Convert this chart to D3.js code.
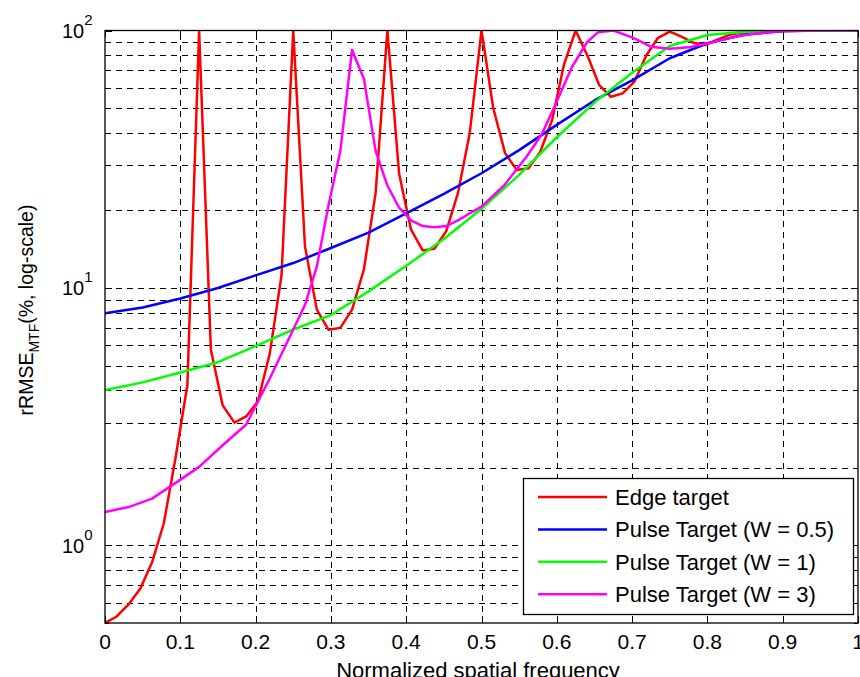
<!DOCTYPE html>
<html>
<head>
<meta charset="utf-8">
<script src="https://cdn.jsdelivr.net/npm/d3@7"></script>
<style>
  body { margin: 0; background: #fff; }
  svg { display: block; font-family: "Liberation Sans", Arial, sans-serif; }
</style>
</head>
<body>
<div id="chart"></div>
<script>
// edge target sampled at k/64
const edgeFreq = [0, 0.0156, 0.0313, 0.0469, 0.0625, 0.0781, 0.0938, 0.1094, 0.125, 0.1406,
    0.1563, 0.1719, 0.1875, 0.2031, 0.2188, 0.2344, 0.25, 0.2656, 0.2813, 0.2969,
    0.3125, 0.3281, 0.3438, 0.3594, 0.375, 0.3906, 0.4063, 0.4219, 0.4375, 0.4531,
    0.4688, 0.4844, 0.5, 0.5156, 0.5313, 0.5469, 0.5625, 0.5781, 0.5938, 0.6094,
    0.625, 0.6406, 0.6563, 0.6719, 0.6875, 0.7031, 0.7188, 0.7344, 0.75, 0.7656,
    0.7813, 0.7969, 0.8125, 0.8281, 0.8438, 0.8594, 0.875, 0.8906, 0.9063, 0.9219,
    0.9375, 0.9531, 0.9688, 0.9844, 1];
const edgeErr = [0.50, 0.53, 0.59, 0.68, 0.86, 1.22, 2.2, 4.2, 100, 5.76,
    3.5, 3.0, 3.17, 3.63, 5.56, 11.2, 100, 14.5, 8.24, 6.88,
    7.0, 8.24, 11.8, 23.4, 100, 27.8, 16.9, 14.0, 14.2, 16.6,
    23.4, 40, 100, 50, 33.4, 28.7, 29.2, 33.8, 44.9, 73.5,
    100, 80, 61.4, 55.3, 57, 63.3, 80, 93.7, 99, 94.6,
    89.7, 87.8, 92, 96, 98, 99, 99.5, 99.8, 100, 100,
    100, 100, 100, 100, 100];

const pulseFreq = [0, 0.05, 0.1, 0.15, 0.2, 0.25, 0.3, 0.35, 0.4, 0.45, 0.5,
    0.55, 0.6, 0.65, 0.7, 0.75, 0.8, 0.85, 0.9, 0.95, 1];
const pulseHalfErr = [7.97, 8.4, 9.1, 10.0, 11.2, 12.5, 14.3, 16.4, 19.5, 23.2, 27.9,
    34.3, 43, 53.5, 64, 78, 89.2, 96.5, 99.3, 100, 100];
const pulseOneErr = [4.02, 4.3, 4.7, 5.15, 5.95, 6.9, 7.85, 9.7, 12.2, 15.5, 20.3,
    27.5, 38.5, 52.5, 68.5, 87, 96, 98.8, 99.8, 100, 100];

const pulseThreeFreq = [0, 0.0313, 0.0625, 0.0938, 0.125, 0.1563, 0.1875, 0.2188, 0.25, 0.2656,
    0.2813, 0.2969, 0.3125, 0.3281, 0.3438, 0.3594, 0.375, 0.3906, 0.4063, 0.4219,
    0.4375, 0.4531, 0.4688, 0.4844, 0.5, 0.53, 0.56, 0.58, 0.6, 0.62,
    0.64, 0.655, 0.675, 0.7, 0.725, 0.75, 0.775, 0.8, 0.825, 0.85,
    0.875, 0.9, 0.95, 1];
const pulseThreeErr = [1.35, 1.41, 1.52, 1.75, 2.02, 2.45, 2.95, 4.45, 6.9, 8.6,
    12.1, 21, 34, 84, 65, 34, 25, 20.5, 18.3, 17.4,
    17.2, 17.4, 18.3, 19.5, 20.7, 25, 32.4, 39.5, 53, 72,
    90, 98.5, 100, 94, 86.5, 85, 86, 89, 93, 96,
    98.3, 99.5, 100, 100];

const seriesNames = ['Edge target', 'Pulse Target (W = 0.5)', 'Pulse Target (W = 1)', 'Pulse Target (W = 3)'];
const xTickValues = [0, 0.1, 0.2, 0.3, 0.4, 0.5, 0.6, 0.7, 0.8, 0.9, 1];
const xTickLabels = ['0', '0.1', '0.2', '0.3', '0.4', '0.5', '0.6', '0.7', '0.8', '0.9', '1'];
const yDecades = [1, 10, 100];
const yDecadeExps = ['0', '1', '2'];

const series = [
    {name: seriesNames[0], freq: edgeFreq, err: edgeErr, color: '#ff0000'},
    {name: seriesNames[1], freq: pulseFreq, err: pulseHalfErr, color: '#0000ff'},
    {name: seriesNames[2], freq: pulseFreq, err: pulseOneErr, color: '#00ff00'},
    {name: seriesNames[3], freq: pulseThreeFreq, err: pulseThreeErr, color: '#ff00ff'}
];

let width = 860,
    height = 677,
    plot = {left: 105, right: 858, top: 30.5, bottom: 623};

let svg = d3.select('#chart').append('svg')
    .attr('width', width)
    .attr('height', height);

let x = d3.scaleLinear().domain([0, 1]).range([plot.left, plot.right]);
let y = d3.scaleLog().domain([0.5, 100]).range([plot.bottom, plot.top]);

svg.append('clipPath')
    .attr('id', 'plot-clip')
    .append('rect')
    .attr('x', plot.left)
    .attr('y', plot.top)
    .attr('width', plot.right - plot.left)
    .attr('height', plot.bottom - plot.top);

// grid
let grid = svg.append('g')
    .attr('stroke', '#000')
    .attr('stroke-width', 1)
    .attr('stroke-dasharray', '6,5');

grid.selectAll('.hgrid')
    .data(y.ticks().filter(d => d > 0.5 && d < 100))
    .join('line')
    .attr('class', 'hgrid')
    .attr('x1', plot.left)
    .attr('x2', plot.right)
    .attr('y1', d => Math.round(y(d)) + 0.5)
    .attr('y2', d => Math.round(y(d)) + 0.5);

grid.selectAll('.vgrid')
    .data(xTickValues.filter(d => d > 0 && d < 1))
    .join('line')
    .attr('class', 'vgrid')
    .attr('y1', plot.bottom)
    .attr('y2', plot.top)
    .attr('x1', d => Math.round(x(d)) + 0.5)
    .attr('x2', d => Math.round(x(d)) + 0.5);

// ticks
let ticks = svg.append('g')
    .attr('stroke', '#000')
    .attr('stroke-width', 1);

xTickValues.forEach(d => {
    const px = Math.round(x(d)) + 0.5;
    ticks.append('line').attr('x1', px).attr('x2', px).attr('y1', plot.bottom).attr('y2', plot.bottom - 7);
    ticks.append('line').attr('x1', px).attr('x2', px).attr('y1', plot.top).attr('y2', plot.top + 7);
});

y.ticks().forEach(d => {
    const py = Math.round(y(d)) + 0.5;
    const len = yDecades.includes(d) ? 7 : 4;
    ticks.append('line').attr('x1', plot.left).attr('x2', plot.left + len).attr('y1', py).attr('y2', py);
    ticks.append('line').attr('x1', plot.right).attr('x2', plot.right - len).attr('y1', py).attr('y2', py);
});

// curves
let lineGen = d3.line()
    .x(d => x(d[0]))
    .y(d => y(d[1]));

let curves = svg.append('g')
    .attr('clip-path', 'url(#plot-clip)');

series.forEach(s => {
    curves.append('path')
        .datum(s.freq.map((f, i) => [f, s.err[i]]))
        .attr('fill', 'none')
        .attr('stroke', s.color)
        .attr('stroke-width', 2.5)
        .attr('stroke-linejoin', 'round')
        .attr('d', lineGen);
});

// frame
svg.append('rect')
    .attr('x', plot.left)
    .attr('y', plot.top)
    .attr('width', plot.right - plot.left)
    .attr('height', plot.bottom - plot.top)
    .attr('fill', 'none')
    .attr('stroke', '#000')
    .attr('stroke-width', 1.3);

// tick labels
svg.append('g')
    .attr('font-size', 21)
    .attr('text-anchor', 'middle')
    .selectAll('text')
    .data(xTickValues)
    .join('text')
    .attr('x', d => x(d))
    .attr('y', 649)
    .attr('fill', '#000')
    .text((d, i) => xTickLabels[i]);

let yLabels = svg.append('g')
    .attr('font-size', 20)
    .attr('text-anchor', 'end')
    .selectAll('text')
    .data(yDecades)
    .join('text')
    .attr('x', 92.5)
    .attr('y', d => y(d) + 7.5)
    .attr('fill', '#000');

yLabels.append('tspan').text('10');
yLabels.append('tspan')
    .attr('font-size', 15)
    .attr('dy', -13)
    .text((d, i) => yDecadeExps[i]);

// axis titles (the reference crops the x title at the bottom edge)
svg.append('text')
    .attr('x', 478)
    .attr('y', 678)
    .attr('text-anchor', 'middle')
    .attr('font-size', 22)
    .text('Normalized spatial frequency');

let yTitle = svg.append('text')
    .attr('transform', 'translate(33, 310) rotate(-90)')
    .attr('text-anchor', 'middle')
    .attr('font-size', 19.5);
yTitle.append('tspan').text('rRMSE');
yTitle.append('tspan').attr('font-size', 14).attr('dy', 6).text('MTF');
yTitle.append('tspan').attr('dy', -6).text('(%,  log-scale)');

// legend
let legend = svg.append('g');
legend.append('rect')
    .attr('x', 523.5)
    .attr('y', 478.5)
    .attr('width', 330)
    .attr('height', 136)
    .attr('fill', '#fff')
    .attr('stroke', '#000')
    .attr('stroke-width', 1.3);

let rows = legend.selectAll('.row')
    .data(series)
    .join('g')
    .attr('class', 'row')
    .attr('transform', (d, i) => `translate(0, ${497 + i * 32.4})`);

rows.append('line')
    .attr('x1', 538)
    .attr('x2', 607)
    .attr('stroke', d => d.color)
    .attr('stroke-width', 2.5);

rows.append('text')
    .attr('x', 615)
    .attr('y', 8)
    .attr('font-size', 22)
    .text(d => d.name);
</script>
</body>
</html>
